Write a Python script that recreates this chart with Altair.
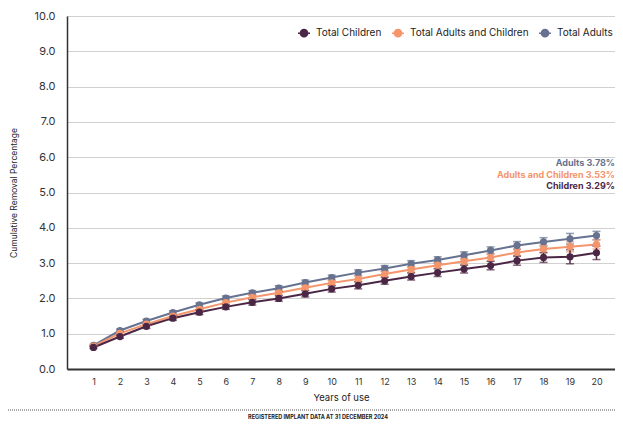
import altair as alt
import pandas as pd

years = list(range(1, 21))
series_names = ["Total Children", "Total Adults and Children", "Total Adults"]
colors = ["#4b2745", "#f4956b", "#66728f"]

children = [0.61, 0.92, 1.21, 1.44, 1.61, 1.76, 1.89, 2.00, 2.13, 2.27,
            2.37, 2.50, 2.62, 2.73, 2.83, 2.93, 3.07, 3.16, 3.18, 3.29]
combined = [0.65, 1.01, 1.27, 1.50, 1.69, 1.88, 2.03, 2.16, 2.30, 2.44,
            2.55, 2.69, 2.82, 2.94, 3.05, 3.16, 3.30, 3.40, 3.46, 3.53]
adults = [0.67, 1.09, 1.36, 1.60, 1.82, 2.01, 2.16, 2.29, 2.45, 2.59,
          2.73, 2.85, 2.98, 3.09, 3.22, 3.36, 3.50, 3.60, 3.69, 3.78]

children_err = [0.03, 0.05, 0.06, 0.06, 0.07, 0.07, 0.08, 0.08, 0.09, 0.09,
                0.10, 0.10, 0.10, 0.11, 0.11, 0.12, 0.13, 0.14, 0.20, 0.19]
combined_err = [0.02, 0.04, 0.04, 0.05, 0.05, 0.06, 0.06, 0.06, 0.07, 0.07,
                0.08, 0.08, 0.08, 0.09, 0.09, 0.10, 0.10, 0.11, 0.14, 0.13]
adults_err = [0.02, 0.04, 0.05, 0.05, 0.05, 0.06, 0.06, 0.07, 0.07, 0.07,
              0.08, 0.08, 0.09, 0.09, 0.10, 0.10, 0.11, 0.12, 0.15, 0.12]

annotations = ["Adults 3.78%", "Adults and Children 3.53%", "Children 3.29%"]
annotation_colors = ["#66728f", "#f4956b", "#4b2745"]

rows = []
for name, vals, errs in [("Total Adults", adults, adults_err),
                         ("Total Adults and Children", combined, combined_err),
                         ("Total Children", children, children_err)]:
    for yr, v, e in zip(years, vals, errs):
        rows.append({"year": yr, "value": v, "lo": v - e, "hi": v + e, "series": name})
df = pd.DataFrame(rows)

FONT = "Inter"
W, H = 548, 353

x = alt.X("year:Q", scale=alt.Scale(domain=[0, 20.7], nice=False, zero=True),
          axis=alt.Axis(values=years, title="Years of use", grid=False, ticks=False,
                        labelFontSize=9, labelColor="#333", titleFontSize=9.5,
                        titleFontWeight="normal", titleColor="#222", titlePadding=6,
                        domainColor="#333", domainWidth=2, labelPadding=8))
y_scale = alt.Scale(domain=[0, 10], nice=False)
y_axis = alt.Axis(values=list(range(0, 11)), format=".1f",
                  title="Cumulative Removal Percentage", grid=True, gridColor="#d0d0d0",
                  gridWidth=1, ticks=False, labelFontSize=11, labelColor="#333",
                  titleFontSize=8.5, titleFontWeight="normal", titleColor="#222",
                  titlePadding=16, domainColor="#333", domainWidth=1.5, labelPadding=12)
y = alt.Y("value:Q", scale=y_scale, axis=y_axis)

legend = alt.Legend(orient="none", legendX=230, legendY=10,
                    direction="horizontal", title=None,
                    labelFontSize=10, labelColor="#222", labelFontWeight="normal",
                    symbolType="M-1,0L1,0M-0.6,0A0.6,0.6,0,1,0,0.6,0A0.6,0.6,0,1,0,-0.6,0Z",
                    symbolSize=144, symbolStrokeWidth=1.5,
                    symbolOpacity=1, columnPadding=7, labelOffset=5)
color = alt.Color("series:N", scale=alt.Scale(domain=series_names, range=colors),
                  legend=legend)

base = alt.Chart(df)

lines = base.mark_line(strokeWidth=2).encode(x=x, y=y, color=color, order="year:Q")
errs = base.mark_errorbar(ticks=alt.TickConfig(size=8, thickness=1.5), thickness=1.5).encode(
    x=x, y=alt.Y("lo:Q", scale=y_scale, axis=y_axis), y2="hi:Q", color=color)
points = base.mark_point(filled=True, size=52, opacity=1, shape="circle").encode(
    x=x, y=y, color=color)

layers = [lines, errs, points]

ann_y = [147, 158.5, 170]
for text, c, yy in zip(annotations, annotation_colors, ann_y):
    layers.append(alt.Chart(pd.DataFrame({"label": [text]})).mark_text(
        align="right", baseline="middle", fontSize=9, fontWeight="bold",
        font=FONT, color=c).encode(x=alt.value(W), y=alt.value(yy), text="label:N"))

layers.append(alt.Chart(pd.DataFrame({"a": [0]})).mark_rule(
    strokeDash=[1, 1], strokeWidth=1, color="#555").encode(
    x=alt.value(-59), x2=alt.value(W), y=alt.value(394)))
layers.append(alt.Chart(pd.DataFrame({"t": ["REGISTERED IMPLANT DATA AT 31 DECEMBER 2024"]})).mark_text(
    fontSize=5.5, fontWeight="bold", color="#222", font=FONT, align="center",
    baseline="bottom").encode(x=alt.value(251), y=alt.value(404), text="t:N"))

chart = alt.layer(*layers).properties(
    width=W, height=H, autosize=alt.AutoSizeParams(type="none"),
    padding={"left": 59, "top": 8, "right": 0, "bottom": 51}
).configure_view(stroke=None).configure(font=FONT)

chart.save("out.html", embed_options={"renderer": "svg", "actions": False})
